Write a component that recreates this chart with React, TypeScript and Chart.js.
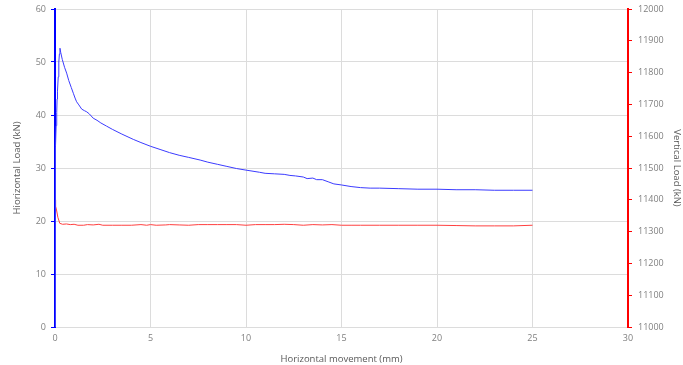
import React, { useEffect, useRef } from "react";
import { Chart, registerables } from "chart.js";

Chart.register(...registerables);

const blueX = [0, 0.01, 0.02, 0.03, 0.04, 0.06, 0.09, 0.11, 0.13, 0.17, 0.2, 0.23, 0.26, 0.3, 0.38, 0.5, 0.61, 0.72, 0.85, 0.96, 1.05, 1.13, 1.25, 1.4, 1.55, 1.66, 1.8, 2.0, 2.2, 2.4, 2.7, 3.0, 3.5, 4.1, 4.5, 5.0, 5.5, 6.0, 6.5, 7.0, 7.6, 8.0, 8.5, 9.0, 9.5, 10.0, 10.7, 11.0, 11.5, 12.0, 12.3, 12.6, 13.0, 13.2, 13.5, 13.7, 14.0, 14.3, 14.6, 15.0, 15.5, 16.0, 16.5, 17.0, 18.0, 19.0, 20.0, 21.0, 22.0, 23.0, 24.0, 25.0];
const blueY = [0, 8, 18, 28, 34, 38, 40.5, 43, 44.5, 47.2, 50, 51.5, 52.6, 51.8, 50.5, 49, 47.9, 46.5, 45.2, 44.1, 43.2, 42.5, 41.9, 41.1, 40.8, 40.6, 40.2, 39.4, 39.0, 38.5, 37.9, 37.3, 36.4, 35.4, 34.8, 34.1, 33.5, 32.9, 32.4, 32.0, 31.5, 31.1, 30.7, 30.3, 29.9, 29.6, 29.2, 29.0, 28.9, 28.8, 28.6, 28.5, 28.3, 28.0, 28.1, 27.8, 27.8, 27.4, 27.0, 26.8, 26.5, 26.3, 26.2, 26.2, 26.1, 26.0, 26.0, 25.9, 25.9, 25.8, 25.8, 25.8];

const redX = [0, 0.03, 0.08, 0.15, 0.25, 0.4, 0.6, 0.8, 1.0, 1.2, 1.5, 1.7, 2.0, 2.3, 2.5, 3.0, 3.5, 4.0, 4.5, 4.8, 5.0, 5.3, 5.8, 6.0, 6.5, 7.0, 7.5, 8.0, 8.5, 9.0, 9.5, 10.0, 10.5, 11.0, 11.5, 12.0, 12.5, 13.0, 13.5, 14.0, 14.5, 15.0, 15.5, 16.0, 17.0, 18.0, 19.0, 20.0, 21.0, 22.0, 23.0, 24.0, 25.0];
const redY = [11400, 11380, 11368, 11345, 11326, 11323, 11324, 11322, 11323, 11320, 11320, 11322, 11321, 11323, 11320, 11320, 11320, 11320, 11322, 11320, 11322, 11320, 11321, 11322, 11321, 11320, 11322, 11322, 11322, 11322, 11322, 11320, 11322, 11322, 11322, 11323, 11322, 11320, 11322, 11321, 11322, 11320, 11320, 11320, 11320, 11320, 11320, 11320, 11319, 11318, 11318, 11318, 11320];

const leftTicks = [0, 10, 20, 30, 40, 50, 60];
const rightTicks = [11000, 11100, 11200, 11300, 11400, 11500, 11600, 11700, 11800, 11900, 12000];
const xTicks = [0, 5, 10, 15, 20, 25, 30];

const labelFont = { family: "'Open Sans', 'DejaVu Sans', sans-serif", size: 9 };
const titleFont = { family: "'Open Sans', 'DejaVu Sans', sans-serif", size: 9.5 };

export default function App() {
  const ref = useRef<HTMLCanvasElement | null>(null);
  useEffect(() => {
    document.body.style.margin = "0";
    const ctx = ref.current!;
    const fitY = (w: number) => (s: any) => { s.width = w; s.paddingTop = 0; s.paddingBottom = 0; };
    const chart = new Chart(ctx, {
      type: "scatter",
      data: {
        datasets: [
          {
            label: "Horizontal",
            data: blueX.map((x, i) => ({ x, y: blueY[i] })),
            showLine: true,
            borderColor: "#3b3bff",
            borderWidth: 1,
            pointRadius: 0,
            yAxisID: "y",
          },
          {
            label: "Vertical",
            data: redX.map((x, i) => ({ x, y: redY[i] })),
            showLine: true,
            borderColor: "#ff4040",
            borderWidth: 1,
            pointRadius: 0,
            yAxisID: "y1",
          },
        ],
      },
      options: {
        animation: false,
        responsive: false,
        layout: { padding: { top: 9, left: 0, right: 0, bottom: 0 } },
        plugins: { legend: { display: false }, tooltip: { enabled: false } },
        scales: {
          x: {
            type: "linear",
            min: 0,
            max: 30,
            afterBuildTicks: (s: any) => { s.ticks = xTicks.map((v) => ({ value: v })); },
            afterFit: (s: any) => { s.height = 38; },
            grid: { color: "#dcdcdc", drawTicks: false },
            border: { color: "#dcdcdc" },
            ticks: { color: "#808080", font: labelFont, padding: 6, maxRotation: 0 },
            title: { display: true, text: "Horizontal movement (mm)", color: "#595959", font: titleFont, padding: { top: 2, bottom: 0 } },
          },
          y: {
            type: "linear",
            position: "left",
            min: 0,
            max: 60,
            afterBuildTicks: (s: any) => { s.ticks = leftTicks.map((v) => ({ value: v })); },
            afterFit: fitY(55),
            grid: { color: "#dcdcdc", tickColor: "#0000ff", tickLength: 4 },
            border: { color: "#0000ff", width: 2 },
            ticks: { color: "#808080", font: labelFont, padding: 5 },
            title: { display: true, text: "Hiorizontal Load (kN)", color: "#595959", font: titleFont, padding: { top: 12, bottom: 0 } },
          },
          y1: {
            type: "linear",
            position: "right",
            min: 11000,
            max: 12000,
            afterBuildTicks: (s: any) => { s.ticks = rightTicks.map((v) => ({ value: v })); },
            afterFit: fitY(55),
            grid: { drawOnChartArea: false, tickColor: "#ff0000", tickLength: 4 },
            border: { color: "#ff0000", width: 2 },
            ticks: { color: "#808080", font: labelFont, padding: 6, callback: (v: any) => String(v) },
            title: { display: true, text: "Vertical Load (kN)", color: "#595959", font: titleFont, padding: { top: 1, bottom: 0 } },
          },
        },
      },
    });
    return () => chart.destroy();
  }, []);
  return (
    <div style={{ position: "absolute", left: 0, top: 0, width: 683, height: 365, background: "#fff" }}>
      <canvas ref={ref} width={683} height={365} style={{ width: 683, height: 365 }} />
    </div>
  );
}
